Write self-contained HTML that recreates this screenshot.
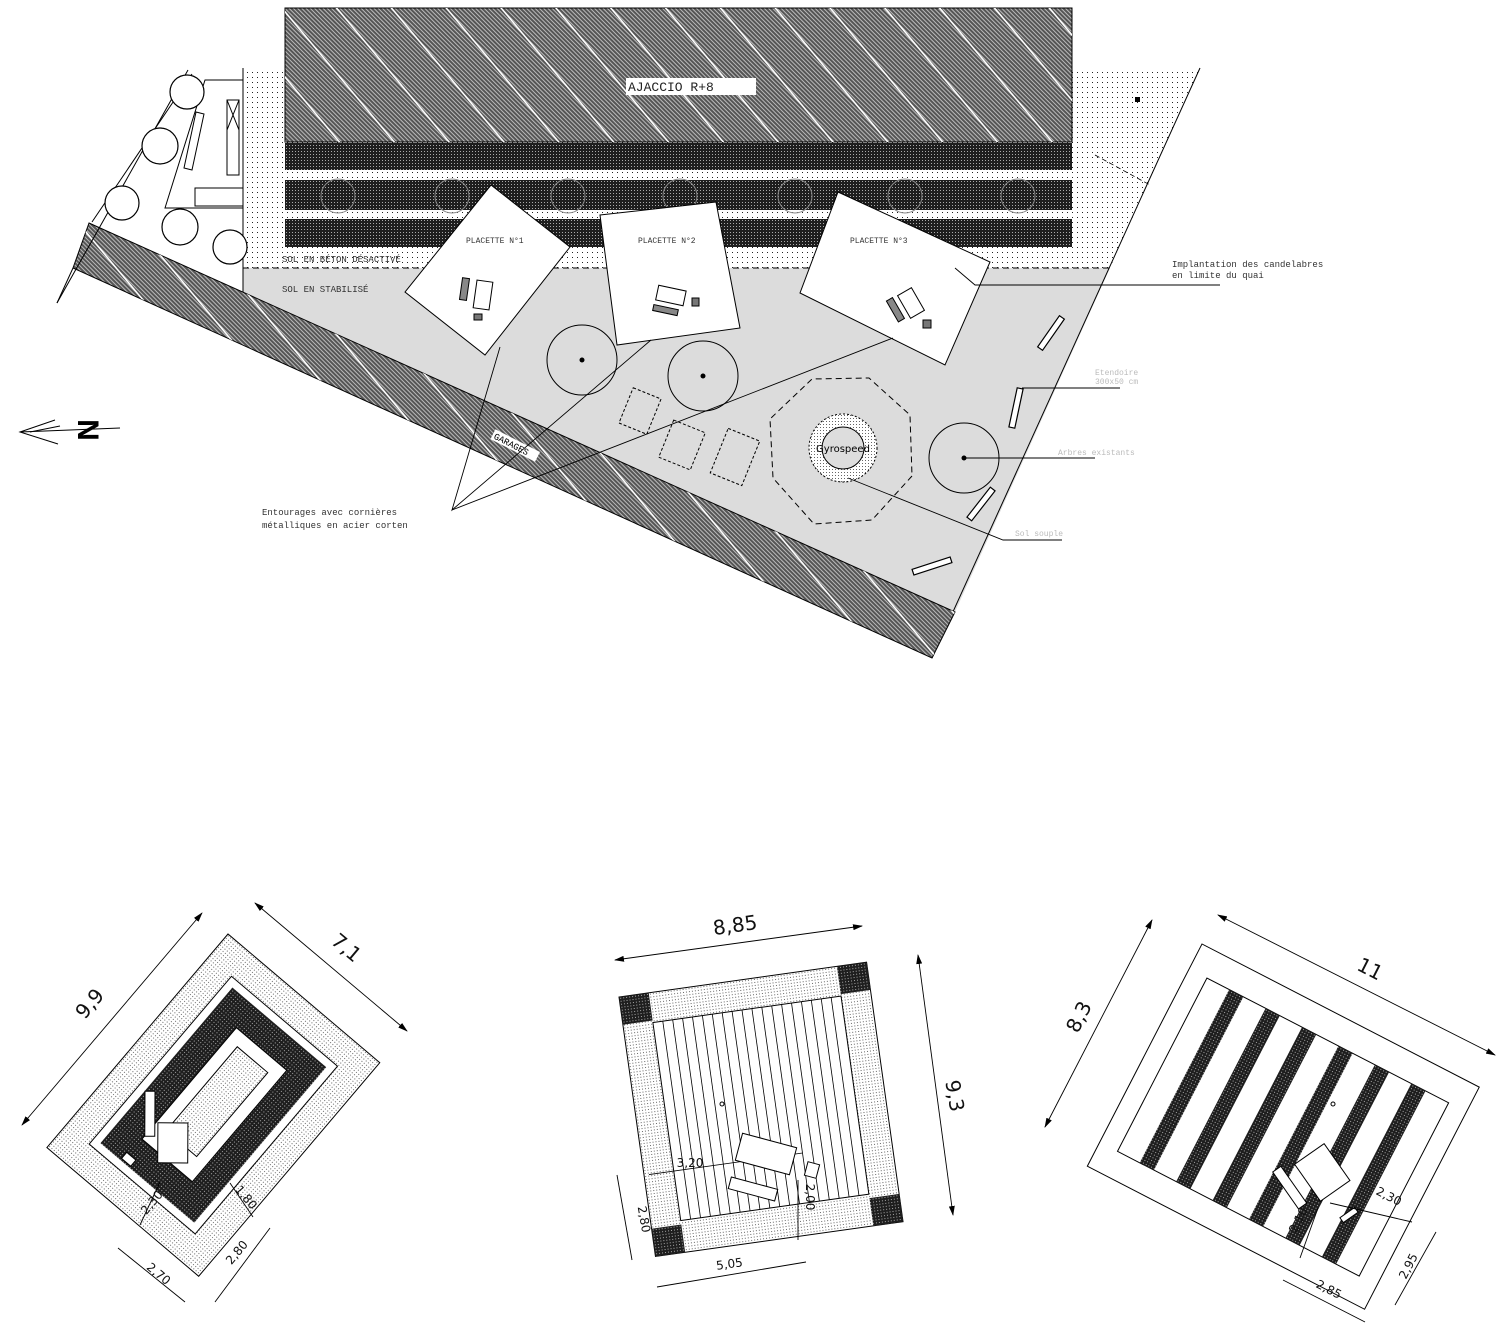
<!DOCTYPE html>
<html><head><meta charset="utf-8"><style>
html,body{margin:0;padding:0;background:#fff}
svg{display:block}
.m{font-family:"Liberation Mono",monospace;font-size:9px;fill:#333}
.f{font-family:"Liberation Mono",monospace;font-size:8px;fill:#bbb}
.d{font-family:"DejaVu Sans","Liberation Sans",sans-serif;font-size:20px;fill:#111}
.s{font-family:"DejaVu Sans","Liberation Sans",sans-serif;font-size:12px;fill:#111}
</style></head><body>
<svg width="1496" height="1341" viewBox="0 0 1496 1341" xmlns="http://www.w3.org/2000/svg">
<defs>
<pattern id="fine" width="3" height="3" patternUnits="userSpaceOnUse" patternTransform="rotate(-45)">
<rect width="3" height="3" fill="#555"/><rect width="1" height="3" fill="#bbb"/></pattern>
<pattern id="wl" width="42" height="42" patternUnits="userSpaceOnUse" patternTransform="rotate(-40)">
<rect x="0" y="0" width="1.5" height="42" fill="#fff"/></pattern>
<pattern id="dense" width="3" height="3" patternUnits="userSpaceOnUse">
<rect width="3" height="3" fill="#1e1e1e"/><rect x="1" y="1" width="1" height="1" fill="#aaa"/></pattern>
<pattern id="spar" width="5" height="5" patternUnits="userSpaceOnUse">
<rect width="5" height="5" fill="#fff"/><rect x="2" y="2" width="1" height="1" fill="#222"/></pattern>
<pattern id="spk" width="3" height="3" patternUnits="userSpaceOnUse">
<rect width="3" height="3" fill="#fff"/><rect x="1" y="1" width="1" height="1" fill="#666"/></pattern>
<marker id="ar" markerWidth="10" markerHeight="6" refX="9" refY="3" orient="auto-start-reverse" markerUnits="userSpaceOnUse"><path d="M0,0 L10,3 L0,6 z" fill="#000"/></marker>
</defs>

<polygon points="243,68 1200,68 1110,268 243,268" fill="url(#spar)"/>
<rect x="285" y="8" width="787" height="134" fill="url(#fine)" stroke="#000"/>
<rect x="285" y="8" width="787" height="134" fill="url(#wl)"/>
<rect x="626" y="78" width="130" height="17" fill="#fff"/>
<text x="628" y="91" class="m" style="font-size:13px;fill:#222">AJACCIO  R+8</text>
<rect x="285" y="143" width="787" height="27" fill="url(#dense)"/>
<rect x="285" y="180" width="787" height="30" fill="url(#dense)"/>
<rect x="285" y="219" width="787" height="28" fill="url(#dense)"/>
<g fill="none" stroke="#888" stroke-width="1">
<circle cx="338" cy="196" r="17"/><circle cx="452" cy="196" r="17"/><circle cx="568" cy="196" r="17"/><circle cx="680" cy="196" r="17"/><circle cx="795" cy="196" r="17"/><circle cx="905" cy="196" r="17"/><circle cx="1018" cy="196" r="17"/></g>
<rect x="1135" y="97" width="5" height="5" fill="#000"/>
<line x1="1095" y1="155" x2="1150" y2="185" stroke="#000" stroke-dasharray="5,3" stroke-width="0.8"/>

<polygon points="243,268 1110,268 955,612 243,292" fill="#dcdcdc"/>
<line x1="243" y1="268" x2="1110" y2="268" stroke="#000" stroke-dasharray="6,4"/>
<line x1="1200" y1="68" x2="932" y2="658" stroke="#000"/>
<line x1="243" y1="68" x2="243" y2="292" stroke="#000"/>
<polygon points="89,223 955,612 932,658 73,268" fill="url(#fine)" stroke="#000"/>
<polygon points="89,223 955,612 932,658 73,268" fill="url(#wl)"/>
<line x1="73" y1="268" x2="57" y2="303" stroke="#000"/>
<rect x="490" y="440" width="50" height="11" fill="#fff" transform="rotate(27 515 446)"/>
<text x="492" y="449" class="m" style="font-size:9px;fill:#000" transform="rotate(27 515 446)">GARAGES</text>
<text x="282" y="292" class="m">SOL EN STABILISÉ</text>
<text x="282" y="262" class="m">SOL EN BÉTON DÉSACTIVÉ</text>

<g stroke="#000" fill="none" stroke-width="1">
<line x1="57" y1="303" x2="188" y2="70"/><line x1="92" y1="222" x2="192" y2="74"/>
<polygon points="165,208 205,80 243,80 243,208" fill="#fff"/>
<rect x="227" y="100" width="12" height="75"/><line x1="227" y1="100" x2="239" y2="130"/><line x1="239" y1="100" x2="227" y2="130"/>
<rect x="195" y="188" width="48" height="18"/>
<polygon points="196,112 204,114 192,170 184,168"/>
<g fill="#fff" stroke-width="1.2">
<circle cx="187" cy="92" r="17"/><circle cx="160" cy="146" r="18"/><circle cx="122" cy="203" r="17"/><circle cx="180" cy="227" r="18"/><circle cx="230" cy="247" r="17"/></g>
</g>

<g stroke="#000" fill="#fff">
<polygon points="491,185 570,247 485,355 405,292"/>
<polygon points="600,215 716,202 740,328 617,345"/>
<polygon points="838,192 990,262 945,365 800,293"/>
</g>
<text x="466" y="243" class="m" style="font-size:8px">PLACETTE N°1</text>
<text x="638" y="243" class="m" style="font-size:8px">PLACETTE N°2</text>
<text x="850" y="243" class="m" style="font-size:8px">PLACETTE N°3</text>
<g stroke="#000" fill="#fff" stroke-width="1">
<rect x="461" y="278" width="7" height="22" transform="rotate(8 464 289)" fill="#888"/>
<rect x="475" y="281" width="16" height="28" transform="rotate(8 483 295)"/>
<rect x="474" y="314" width="8" height="6" fill="#777"/>
<rect x="657" y="288" width="28" height="15" transform="rotate(12 671 295)"/>
<rect x="653" y="307" width="25" height="6" transform="rotate(12 665 310)" fill="#888"/>
<rect x="692" y="298" width="7" height="8" fill="#777"/>
<rect x="903" y="290" width="16" height="26" transform="rotate(-30 911 303)"/>
<rect x="892" y="298" width="7" height="24" transform="rotate(-30 895 310)" fill="#888"/>
<rect x="923" y="320" width="8" height="8" fill="#777"/>
</g>
<g stroke="#000" fill="none">
<circle cx="582" cy="360" r="35"/><circle cx="703" cy="376" r="35"/><circle cx="964" cy="458" r="35"/></g>
<g fill="#000"><circle cx="582" cy="360" r="2.5"/><circle cx="703" cy="376" r="2.5"/><circle cx="964" cy="458" r="2.5"/></g>
<g stroke="#000" fill="none" stroke-dasharray="3,2">
<rect x="625" y="392" width="30" height="38" transform="rotate(22 640 411)"/>
<rect x="665" y="425" width="34" height="40" transform="rotate(22 682 445)"/>
<rect x="718" y="433" width="34" height="48" transform="rotate(22 735 457)"/>
</g>
<polygon points="912,476 872,520 814,524 773,478 770,419 812,379 869,378 910,415" fill="none" stroke="#000" stroke-dasharray="6,4"/>
<circle cx="843" cy="448" r="34" fill="url(#spk)" stroke="#000" stroke-dasharray="2,2"/>
<circle cx="843" cy="448" r="21" fill="#ddd" stroke="#000"/>
<text x="843" y="452" text-anchor="middle" style="font-family:'DejaVu Sans',sans-serif;font-size:10px">Gyrospeed</text>
<g stroke="#000" fill="#fff" stroke-width="1.2">
<rect x="1048" y="314" width="6" height="38" transform="rotate(35 1051 333)"/>
<rect x="1013" y="388" width="6" height="40" transform="rotate(12 1016 408)"/>
<rect x="978" y="485" width="6" height="38" transform="rotate(38 981 504)"/>
<rect x="912" y="563" width="40" height="6" transform="rotate(-18 932 566)"/>
</g>
<g stroke="#000" fill="none" stroke-width="0.9">
<polyline points="500,347 452,510 651,340"/><line x1="452" y1="510" x2="893" y2="338"/>
<polyline points="955,268 975,285 1220,285"/>
<line x1="1022" y1="388" x2="1120" y2="388"/>
<line x1="964" y1="458" x2="1095" y2="458"/>
<polyline points="848,478 1003,540 1062,540"/>
</g>
<text x="262" y="515" class="m">Entourages avec cornières</text>
<text x="262" y="528" class="m">métalliques en acier corten</text>
<text x="1172" y="267" class="m">Implantation des candelabres</text>
<text x="1172" y="278" class="m">en limite du quai</text>
<text x="1095" y="375" class="f">Etendoire</text><text x="1095" y="384" class="f">300x50 cm</text>
<text x="1058" y="455" class="f">Arbres existants</text>
<text x="1015" y="536" class="f">Sol souple</text>
<g stroke="#000" fill="none"><polyline points="55,420 20,432 58,444"/><line x1="20" y1="432" x2="120" y2="428"/><line x1="30" y1="432" x2="60" y2="426"/></g>
<text x="88" y="430" text-anchor="middle" transform="rotate(90 88 430)" style="font-family:'Liberation Sans',sans-serif;font-weight:bold;font-size:30px" dy="10">N</text>

<!-- PLAN 1 -->
<g transform="translate(228,934) rotate(40.3)">
<rect width="199" height="280" fill="url(#spk)" stroke="#000"/>
<rect x="30" y="30" width="139" height="220" fill="#fff" stroke="#000"/>
<rect x="38" y="38" width="123" height="204" fill="url(#dense)"/>
<rect x="67" y="66" width="66" height="146" fill="#fff" stroke="#000"/>
<rect x="80" y="80" width="40" height="110" fill="url(#spk)" stroke="#000"/>
<rect x="78" y="175" width="30" height="40" fill="#fff" stroke="#000" transform="rotate(-40 93 195)"/>
<rect x="52" y="165" width="10" height="45" fill="#fff" stroke="#000" transform="rotate(-40 57 188)"/>
<rect x="64" y="232" width="12" height="8" fill="#fff" stroke="#000"/>
</g>
<g stroke="#000" stroke-width="0.9">
<line x1="22" y1="1125" x2="202" y2="913" marker-start="url(#ar)" marker-end="url(#ar)"/><line x1="255" y1="903" x2="407" y2="1031" marker-start="url(#ar)" marker-end="url(#ar)"/>
<line x1="118" y1="1248" x2="185" y2="1302"/><line x1="215" y1="1302" x2="270" y2="1228"/>
<line x1="140" y1="1225" x2="160" y2="1182"/><line x1="230" y1="1183" x2="253" y2="1217"/>
</g>
<text x="95" y="1008" class="d" transform="rotate(-50 95 1008)" text-anchor="middle">9,9</text>
<text x="342" y="953" class="d" transform="rotate(40 342 953)" text-anchor="middle">7,1</text>
<text x="155" y="1205" class="s" transform="rotate(-50 155 1205)" text-anchor="middle">2,30</text>
<text x="243" y="1200" class="s" transform="rotate(50 243 1200)" text-anchor="middle">1,80</text>
<text x="156" y="1277" class="s" transform="rotate(40 156 1277)" text-anchor="middle">2,70</text>
<text x="240" y="1255" class="s" transform="rotate(-50 240 1255)" text-anchor="middle">2,80</text>

<!-- PLAN 2 -->
<g transform="translate(619,997) rotate(-8)">
<rect width="250" height="262" fill="url(#spk)" stroke="#000"/>
<rect x="30" y="30" width="190" height="200" fill="#fff" stroke="#000"/>
<g stroke="#000" stroke-width="0.8">
<line x1="40" y1="30" x2="40" y2="230"/><line x1="50" y1="30" x2="50" y2="230"/><line x1="60" y1="30" x2="60" y2="230"/><line x1="70" y1="30" x2="70" y2="230"/><line x1="80" y1="30" x2="80" y2="230"/><line x1="90" y1="30" x2="90" y2="230"/><line x1="100" y1="30" x2="100" y2="230"/><line x1="110" y1="30" x2="110" y2="230"/><line x1="120" y1="30" x2="120" y2="230"/><line x1="130" y1="30" x2="130" y2="230"/><line x1="140" y1="30" x2="140" y2="230"/><line x1="150" y1="30" x2="150" y2="230"/><line x1="160" y1="30" x2="160" y2="230"/><line x1="170" y1="30" x2="170" y2="230"/><line x1="180" y1="30" x2="180" y2="230"/><line x1="190" y1="30" x2="190" y2="230"/><line x1="200" y1="30" x2="200" y2="230"/><line x1="210" y1="30" x2="210" y2="230"/>
<line x1="5" y1="180" x2="160" y2="180"/>
</g>
<rect x="0" y="0" width="30" height="28" fill="url(#dense)"/><rect x="220" y="0" width="30" height="28" fill="url(#dense)"/>
<rect x="0" y="234" width="30" height="28" fill="url(#dense)"/><rect x="220" y="234" width="30" height="28" fill="url(#dense)"/>
</g>
<g stroke="#000" fill="#fff">
<rect x="738" y="1140" width="56" height="28" transform="rotate(15 766 1154)"/>
<rect x="729" y="1183" width="48" height="12" transform="rotate(15 753 1189)"/>
<rect x="806" y="1163" width="12" height="14" transform="rotate(15 812 1170)"/>
</g>
<circle cx="722" cy="1104" r="2" fill="none" stroke="#000"/>
<g stroke="#000" stroke-width="0.9">
<line x1="615" y1="960" x2="862" y2="926" marker-start="url(#ar)" marker-end="url(#ar)"/><line x1="918" y1="955" x2="953" y2="1215" marker-start="url(#ar)" marker-end="url(#ar)"/>
<line x1="617" y1="1175" x2="632" y2="1260"/><line x1="657" y1="1287" x2="806" y2="1262"/>
<line x1="798" y1="1180" x2="798" y2="1240"/>
</g>
<text x="736" y="932" class="d" transform="rotate(-8 736 932)" text-anchor="middle">8,85</text>
<text x="948" y="1097" class="d" transform="rotate(80 948 1097)" text-anchor="middle">9,3</text>
<text x="690" y="1167" class="s" text-anchor="middle">3,20</text>
<text x="806" y="1197" class="s" transform="rotate(90 806 1197)" text-anchor="middle">2,00</text>
<text x="640" y="1220" class="s" transform="rotate(80 640 1220)" text-anchor="middle">2,80</text>
<text x="730" y="1268" class="s" transform="rotate(-8 730 1268)" text-anchor="middle">5,05</text>

<!-- PLAN 3 -->
<g transform="translate(1202,944) rotate(27.3)">
<rect width="312" height="250" fill="#fff" stroke="#000"/>
<g transform="translate(20,28)">
<rect width="272" height="195" fill="#fff" stroke="#000"/>
<rect x="25" y="0" width="16" height="195" fill="url(#dense)"/>
<rect x="66" y="0" width="16" height="195" fill="url(#dense)"/>
<rect x="107" y="0" width="16" height="195" fill="url(#dense)"/>
<rect x="148" y="0" width="16" height="195" fill="url(#dense)"/>
<rect x="189" y="0" width="16" height="195" fill="url(#dense)"/>
<rect x="230" y="0" width="16" height="195" fill="url(#dense)"/>
</g>
</g>
<g stroke="#000" fill="#fff">
<rect x="1304" y="1150" width="36" height="45" transform="rotate(-35 1322 1172)"/>
<rect x="1285" y="1165" width="10" height="45" transform="rotate(-35 1290 1188)"/>
<rect x="1340" y="1212" width="18" height="6" transform="rotate(-35 1349 1215)"/>
</g>
<circle cx="1333" cy="1104" r="2" fill="none" stroke="#000"/>
<g stroke="#000" stroke-width="0.9">
<line x1="1218" y1="915" x2="1495" y2="1055" marker-start="url(#ar)" marker-end="url(#ar)"/><line x1="1152" y1="920" x2="1045" y2="1127" marker-start="url(#ar)" marker-end="url(#ar)"/>
<line x1="1283" y1="1280" x2="1365" y2="1322"/><line x1="1395" y1="1305" x2="1436" y2="1232"/>
<line x1="1330" y1="1203" x2="1412" y2="1222"/><line x1="1300" y1="1258" x2="1318" y2="1208"/>
</g>
<text x="1367" y="975" class="d" transform="rotate(27 1367 975)" text-anchor="middle">11</text>
<text x="1085" y="1020" class="d" transform="rotate(-63 1085 1020)" text-anchor="middle">8,3</text>
<text x="1387" y="1200" class="s" transform="rotate(27 1387 1200)" text-anchor="middle">2,30</text>
<text x="1302" y="1222" class="s" transform="rotate(-63 1302 1222)" text-anchor="middle">2,10</text>
<text x="1327" y="1293" class="s" transform="rotate(27 1327 1293)" text-anchor="middle">2,85</text>
<text x="1412" y="1268" class="s" transform="rotate(-63 1412 1268)" text-anchor="middle">2,95</text>
</svg>
</body></html>
